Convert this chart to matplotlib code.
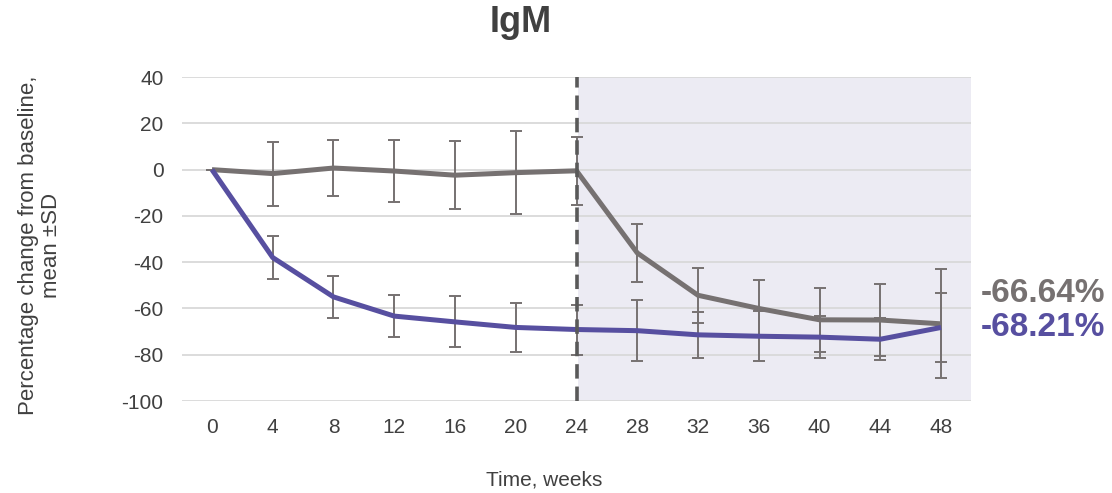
import matplotlib
matplotlib.use("Agg")
import matplotlib.pyplot as plt

plt.rcParams['font.family'] = ['Liberation Sans', 'DejaVu Sans']
plt.rcParams['axes.unicode_minus'] = False

# IgM percentage change from baseline, mean and SD per visit
weeks = [0, 4, 8, 12, 16, 20, 24, 28, 32, 36, 40, 44, 48]
grey_mean = [0, -1.7, 0.7, -0.6, -2.4, -1.3, -0.5, -36.0, -54.3, -60.0, -64.9, -65.0, -66.64]
grey_sd = [0, 13.8, 12.0, 13.4, 14.8, 17.9, 14.7, 12.7, 11.8, 12.3, 13.9, 15.6, 23.5]
purple_mean = [0, -38.0, -55.0, -63.3, -65.8, -68.2, -69.1, -69.6, -71.4, -72.0, -72.4, -73.3, -68.21]
purple_sd = [0, 9.3, 9.2, 9.2, 11.0, 10.5, 10.8, 13.2, 10.0, 10.7, 9.0, 9.1, 14.9]
yticks = [40, 20, 0, -20, -40, -60, -80, -100]

grey = '#767171'
purple = '#574fa0'
txt = '#404040'

fig = plt.figure(figsize=(11.12, 4.93), dpi=100)
ax = fig.add_axes([0.1633, 0.1866, 0.7103, 0.657])

ax.axvspan(24.13, 50, color='#ecebf3', zorder=0, lw=0)
for v in yticks:
    ax.axhline(v, color='#d9d9d9', lw=1.3, zorder=1)

ax.errorbar(weeks, grey_mean, yerr=grey_sd, fmt='none', ecolor=grey,
            elinewidth=1.4, capsize=4, capthick=1.4, zorder=2)
ax.errorbar(weeks, purple_mean, yerr=purple_sd, fmt='none', ecolor=grey,
            elinewidth=1.4, capsize=4, capthick=1.4, zorder=2)
ax.plot(weeks, grey_mean, color=grey, lw=3.6, zorder=3, solid_capstyle='butt')
ax.plot(weeks, purple_mean, color=purple, lw=3.6, zorder=4, solid_capstyle='butt')

ax.axvline(24, color='#595959', lw=2.6, ls=(0, (4, 2.2)), zorder=5)

ax.set_xlim(-2, 50)
ax.set_ylim(-100, 40)
ax.set_xticks(weeks)
ax.set_yticks(yticks)
ax.tick_params(length=0, labelsize=15, colors=txt)
ax.tick_params(axis='y', pad=13)
ax.tick_params(axis='x', pad=12)
for s in ax.spines.values():
    s.set_visible(False)

# end-of-study values at week 48
ax.annotate(f'{grey_mean[-1]:.2f}%', xy=(1.0, grey_mean[-1]),
            xycoords=ax.get_yaxis_transform(), xytext=(7, 22), textcoords='offset points',
            color=grey, fontsize=24, fontweight='bold', va='center', ha='left')
ax.annotate(f'{purple_mean[-1]:.2f}%', xy=(1.0, purple_mean[-1]),
            xycoords=ax.get_yaxis_transform(), xytext=(7, 0), textcoords='offset points',
            color=purple, fontsize=24, fontweight='bold', va='center', ha='left')

fig.text(521 / 1112, 1 - 23 / 493, 'IgM', fontsize=26, fontweight='bold',
         color=txt, ha='center', va='center')
fig.text(544 / 1112, 1 - 480 / 493, 'Time, weeks', fontsize=15, color=txt,
         ha='center', va='center')
fig.text(40 / 1112, 1 - 245 / 493, 'Percentage change from baseline,\nmean ±SD',
         fontsize=16, color=txt, rotation=90, ha='center', va='center',
         multialignment='center', linespacing=1.15)

fig.savefig('out.png', dpi=100)
